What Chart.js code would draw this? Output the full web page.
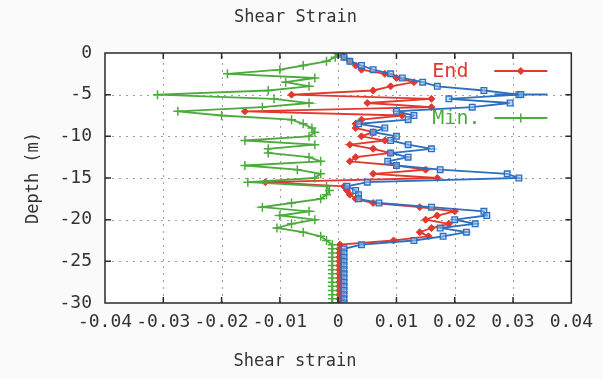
<!DOCTYPE html>
<html>
<head>
<meta charset="utf-8">
<title>Shear Strain</title>
<script src="https://cdn.jsdelivr.net/npm/chart.js@4.4.1/dist/chart.umd.min.js"></script>
<style>
  html, body { margin: 0; padding: 0; background: #fafafa; }
  canvas { display: block; }
</style>
</head>
<body>
<canvas id="shearChart" width="602" height="379"></canvas>
<script>
// node depths (m)
var depth = [
  0, -0.5, -1, -1.5, -2, -2.5, -3, -3.5, -4, -4.5,
  -5, -5.5, -6, -6.5, -7, -7.5, -8, -8.5, -9, -9.5,
  -10, -10.5, -11, -11.5, -12, -12.5, -13, -13.5, -14, -14.5,
  -15, -15.5, -16, -16.5, -17, -17.5, -18, -18.5, -19, -19.5,
  -20, -20.5, -21, -21.5, -22, -22.5, -23, -23.5, -24, -24.5,
  -25, -25.5, -26, -26.5, -27, -27.5, -28, -28.5, -29, -29.5, -30
];

// shear strain at the end of shaking
var endStrain = [
  0.0002, 0.001, 0.002, 0.003, 0.004, 0.008, 0.010, 0.013, 0.009, 0.006,
  -0.008, 0.016, 0.005, 0.016, -0.016, 0.011, 0.004, 0.003, 0.003, 0.006,
  0.004, 0.008, 0.002, 0.006, 0.009, 0.003, 0.002, 0.010, 0.015, 0.006,
  0.017, -0.0125, 0.001, 0.0015, 0.002, 0.003, 0.006, 0.014, 0.020, 0.017,
  0.015, 0.019, 0.016, 0.014, 0.0155, 0.0095, 0.0003, 0.0002, 0.0002, 0.0002,
  0.0002, 0.0002, 0.0002, 0.0002, 0.0002, 0.0002, 0.0002, 0.0002, 0.0002, 0.0002, 0.0002
];

// maximum shear strain
var maxStrain = [
  0.0005, 0.001, 0.002, 0.004, 0.006, 0.009, 0.011, 0.0145, 0.017, 0.025,
  0.031, 0.019, 0.0295, 0.023, 0.010, 0.013, 0.012, 0.0035, 0.008, 0.006,
  0.010, 0.009, 0.012, 0.016, 0.009, 0.012, 0.0085, 0.010, 0.0175, 0.029,
  0.031, 0.005, 0.0015, 0.003, 0.0035, 0.0035, 0.007, 0.016, 0.025, 0.0255,
  0.020, 0.0235, 0.0175, 0.022, 0.018, 0.013, 0.004, 0.001, 0.001, 0.001,
  0.001, 0.001, 0.001, 0.001, 0.001, 0.001, 0.001, 0.001, 0.001, 0.001, 0.001
];

// minimum shear strain
var minStrain = [
  -0.0002, -0.0005, -0.002, -0.006, -0.010, -0.019, -0.004, -0.009, -0.005, -0.012,
  -0.031, -0.011, -0.005, -0.013, -0.0275, -0.020, -0.008, -0.006, -0.0045, -0.004,
  -0.005, -0.016, -0.004, -0.012, -0.012, -0.005, -0.003, -0.016, -0.007, -0.003,
  -0.004, -0.0155, -0.002, -0.0015, -0.002, -0.003, -0.008, -0.013, -0.005, -0.010,
  -0.004, -0.008, -0.0105, -0.006, -0.003, -0.002, -0.001, -0.001, -0.001, -0.001,
  -0.001, -0.001, -0.001, -0.001, -0.001, -0.001, -0.001, -0.001, -0.001, -0.001, -0.001
];

var xTicks = [-0.04, -0.03, -0.02, -0.01, 0, 0.01, 0.02, 0.03, 0.04];
var yTicks = [0, -5, -10, -15, -20, -25, -30];
var seriesLabels = ['End', '', 'Min.'];

var FONT = 'DejaVu Sans Mono';
var TEXT = '#333333';

function toPoints(values) {
	return depth.map(function(d, i) {
		return { x: values[i], y: d };
	});
}

function fmtTick(v) {
	if (Math.abs(v) < 1e-9) return '0';
	return Number.isInteger(v) ? String(v) : v.toFixed(2);
}

// background, dotted grid, framed border with inward ticks, key, x title
var framePlugin = {
	id: 'frame',
	beforeDraw: function(chart) {
		var ctx = chart.ctx, a = chart.chartArea;
		ctx.save();
		ctx.fillStyle = '#fafafa';
		ctx.fillRect(0, 0, chart.width, chart.height);
		ctx.fillStyle = '#ffffff';
		ctx.fillRect(a.left, a.top, a.right - a.left, a.bottom - a.top);
		ctx.restore();
	},
	beforeDatasetsDraw: function(chart) {
		var ctx = chart.ctx, a = chart.chartArea;
		var xs = chart.scales.x, ys = chart.scales.y;
		ctx.save();
		ctx.strokeStyle = 'rgba(150,135,135,0.85)';
		ctx.lineWidth = 1;
		ctx.setLineDash([2, 5]);
		xTicks.slice(1, -1).forEach(function(v) {
			var px = Math.round(xs.getPixelForValue(v)) + 0.5;
			ctx.beginPath();
			ctx.moveTo(px, a.bottom);
			ctx.lineTo(px, a.top);
			ctx.stroke();
		});
		yTicks.slice(1, -1).forEach(function(v) {
			var py = Math.round(ys.getPixelForValue(v)) + 0.5;
			ctx.beginPath();
			ctx.moveTo(a.left, py);
			ctx.lineTo(a.right, py);
			ctx.stroke();
		});
		ctx.restore();
	},
	afterDatasetsDraw: function(chart) {
		var ctx = chart.ctx, a = chart.chartArea;
		var xs = chart.scales.x, ys = chart.scales.y;
		var tick = 6;
		ctx.save();
		ctx.strokeStyle = '#2a2a2a';
		ctx.lineWidth = 1.5;
		ctx.strokeRect(a.left, a.top, a.right - a.left, a.bottom - a.top);
		ctx.beginPath();
		xTicks.slice(1, -1).forEach(function(v) {
			var px = xs.getPixelForValue(v);
			ctx.moveTo(px, a.bottom); ctx.lineTo(px, a.bottom - tick);
			ctx.moveTo(px, a.top); ctx.lineTo(px, a.top + tick);
		});
		yTicks.slice(1, -1).forEach(function(v) {
			var py = ys.getPixelForValue(v);
			ctx.moveTo(a.left, py); ctx.lineTo(a.left + tick, py);
			ctx.moveTo(a.right, py); ctx.lineTo(a.right - tick, py);
		});
		ctx.stroke();

		// x axis title, centred on the page rather than the plot
		ctx.fillStyle = TEXT;
		ctx.font = '17px "' + FONT + '"';
		ctx.textAlign = 'center';
		ctx.textBaseline = 'middle';
		ctx.fillText('Shear strain', 295, 362);

		// key, top right inside the plot
		ctx.font = '20px "' + FONT + '"';
		ctx.textAlign = 'left';
		chart.data.datasets.forEach(function(ds, i) {
			var y = a.top + 18 + i * 23.5;
			var x0 = a.right - 77, x1 = a.right - 24, xm = (x0 + x1) / 2;
			if (ds.label) {
				ctx.fillStyle = ds.borderColor;
				ctx.fillText(ds.label, a.right - 139, y + 1);
			}
			ctx.strokeStyle = ds.borderColor;
			ctx.lineWidth = ds.borderWidth;
			ctx.setLineDash([]);
			ctx.beginPath();
			ctx.moveTo(x0, y);
			ctx.lineTo(x1, y);
			ctx.stroke();
			ctx.fillStyle = ds.pointBackgroundColor;
			ctx.lineWidth = ds.pointBorderWidth;
			Chart.helpers.drawPoint(ctx, {
				pointStyle: ds.pointStyle,
				radius: ds.pointRadius,
				borderWidth: ds.pointBorderWidth,
				rotation: 0
			}, xm, y);
		});
		ctx.restore();
	}
};

var ctx = document.getElementById('shearChart').getContext('2d');

new Chart(ctx, {
	type: 'scatter',
	data: {
		datasets: [{
			label: seriesLabels[0],
			data: toPoints(endStrain),
			showLine: true,
			borderColor: '#e2392f',
			borderWidth: 1.8,
			pointStyle: 'rectRot',
			pointRadius: 3.5,
			pointBorderWidth: 1,
			pointBorderColor: '#e2392f',
			pointBackgroundColor: '#e2392f',
			order: 3
		}, {
			label: seriesLabels[1],
			data: toPoints(maxStrain),
			showLine: true,
			borderColor: '#2c6fbf',
			borderWidth: 1.8,
			pointStyle: 'rect',
			pointRadius: 4,
			pointBorderWidth: 1.3,
			pointBorderColor: '#2c6fbf',
			pointBackgroundColor: 'rgba(150,190,235,0.55)',
			order: 2
		}, {
			label: seriesLabels[2],
			data: toPoints(minStrain),
			showLine: true,
			borderColor: '#4cab3d',
			borderWidth: 1.8,
			pointStyle: 'cross',
			pointRadius: 4.5,
			pointBorderWidth: 1.5,
			pointBorderColor: '#4cab3d',
			pointBackgroundColor: '#4cab3d',
			order: 1
		}]
	},
	options: {
		responsive: false,
		animation: false,
		devicePixelRatio: 1,
		layout: {
			padding: { left: 14, right: 25, top: 0, bottom: 0 }
		},
		plugins: {
			legend: { display: false },
			tooltip: { enabled: false },
			title: {
				display: true,
				text: 'Shear Strain',
				color: TEXT,
				font: { family: FONT, size: 17, weight: 'normal' },
				padding: { top: 7, bottom: 25.6 }
			}
		},
		scales: {
			x: {
				type: 'linear',
				position: 'bottom',
				min: -0.04,
				max: 0.04,
				afterBuildTicks: function(scale) {
					scale.ticks = xTicks.map(function(v) { return { value: v }; });
				},
				afterFit: function(scale) { scale.height = 76; },
				grid: { display: false, drawTicks: false },
				border: { display: false },
				ticks: {
					autoSkip: false,
					maxRotation: 0,
					minRotation: 0,
					padding: 9,
					color: TEXT,
					font: { family: FONT, size: 18 },
					callback: function(v) { return fmtTick(v); }
				}
			},
			y: {
				type: 'linear',
				min: -30,
				max: 0,
				afterBuildTicks: function(scale) {
					scale.ticks = yTicks.map(function(v) { return { value: v }; });
				},
				afterFit: function(scale) { scale.width = 91; },
				grid: { display: false, drawTicks: false },
				border: { display: false },
				ticks: {
					autoSkip: false,
					padding: 13,
					color: TEXT,
					font: { family: FONT, size: 18 },
					callback: function(v) { return fmtTick(v); }
				},
				title: {
					display: true,
					text: 'Depth (m)',
					color: TEXT,
					font: { family: FONT, size: 17 },
					padding: { top: 9, bottom: 0 }
				}
			}
		}
	},
	plugins: [framePlugin]
});
</script>
</body>
</html>
